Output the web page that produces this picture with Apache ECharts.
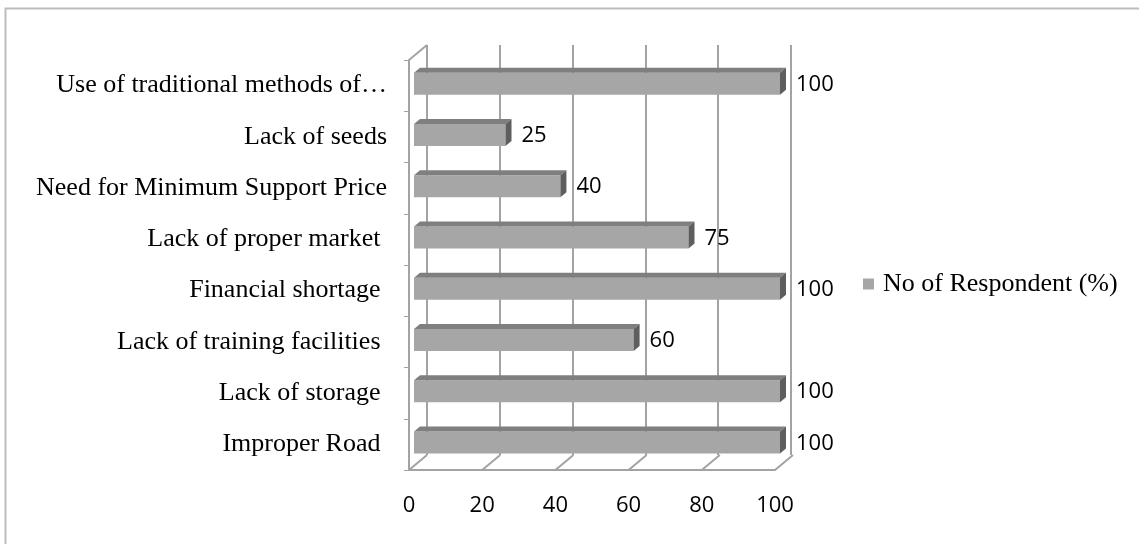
<!DOCTYPE html>
<html>
<head>
<meta charset="utf-8">
<script src="https://cdn.jsdelivr.net/npm/echarts@6/dist/echarts.min.js"></script>
<style>
  html, body { margin: 0; padding: 0; background: #fff; }
  #main { width: 1139px; height: 544px; }
</style>
</head>
<body>
<div id="main"></div>
<script>
// categories, bottom to top as in the chart
var categories = [
  'Improper Road ',
  'Lack of storage ',
  'Lack of training facilities ',
  'Financial shortage ',
  'Lack of proper market ',
  'Need for Minimum Support Price',
  'Lack of seeds',
  'Use of traditional methods of\u2026'
];
var respondents = [100, 100, 60, 100, 75, 40, 25, 100];
var xTicks = [0, 20, 40, 60, 80, 100];
var seriesName = 'No of Respondent (%)';

var lineColor = '#a3a3a3';
var numFont = '"Open Sans", sans-serif';
var depthX = 18, depthY = -15;   // back wall offset

var chart = echarts.init(document.getElementById('main'));

var option = {
  animation: false,
  backgroundColor: '#fff',
  graphic: [{
    type: 'rect',
    shape: { x: 5.5, y: 8.5, width: 1300, height: 700 },
    style: { fill: 'none', stroke: '#bdbdbd', lineWidth: 2 },
    silent: true
  }],
  legend: {
    data: [seriesName],
    left: 858,
    top: 266,
    itemWidth: 11,
    itemHeight: 11,
    itemGap: 8,
    textStyle: { fontFamily: 'Liberation Serif', fontSize: 26, color: '#000', padding: [0, 0, 0, 4] },
    icon: 'rect'
  },
  grid: [
    { left: 409, right: 364, top: 60, bottom: 74 },   // front
    { left: 427, right: 348, top: 45, bottom: 89 }    // back wall
  ],
  xAxis: [{
    gridIndex: 0,
    type: 'value', min: 0, max: 100, interval: 20,
    axisLine: { show: true, lineStyle: { color: lineColor, width: 2 } },
    axisTick: { show: false },
    splitLine: { show: false },
    axisLabel: { fontFamily: numFont, fontSize: 22, color: '#000', margin: 25 }
  }, {
    gridIndex: 1,
    type: 'value', min: 0, max: 100, interval: 20,
    axisLine: { show: false },
    axisTick: { show: false },
    axisLabel: { show: false },
    splitLine: { show: true, lineStyle: { color: lineColor, width: 2 } }
  }],
  yAxis: [{
    gridIndex: 0,
    type: 'category',
    data: categories,
    boundaryGap: true,
    axisLine: { show: true, lineStyle: { color: lineColor, width: 2 } },
    axisTick: { show: true, length: 5, lineStyle: { color: lineColor, width: 1 } },
    axisLabel: { fontFamily: 'Liberation Serif', fontSize: 26, color: '#000', margin: 22 }
  }, {
    gridIndex: 1,
    type: 'category',
    data: categories,
    show: false
  }],
  series: [{
    // floor and wall edges, from the front axis ticks
    type: 'custom',
    xAxisIndex: 0, yAxisIndex: 0,
    silent: true,
    data: xTicks.map(function (t) { return [t]; }),
    renderItem: function (params, api) {
      var cs = params.coordSys;
      var x = api.coord([api.value(0), 0])[0];
      var yb = cs.y + cs.height;
      var kids = [{
        type: 'line',
        shape: { x1: x, y1: yb, x2: x + depthX, y2: yb + depthY },
        style: { stroke: lineColor, lineWidth: 2 }
      }];
      if (params.dataIndex === 0) {
        kids.push({
          type: 'line',
          shape: { x1: cs.x, y1: cs.y, x2: cs.x + depthX, y2: cs.y + depthY },
          style: { stroke: lineColor, lineWidth: 2 }
        });
      }
      return { type: 'group', children: kids };
    },
    z: 1
  }, {
    name: seriesName,
    type: 'custom',
    xAxisIndex: 0, yAxisIndex: 0,
    data: respondents.map(function (v, i) { return [v, i]; }),
    encode: { x: 0, y: 1 },
    itemStyle: { color: '#a6a6a6' },
    renderItem: function (params, api) {
      var v = api.value(0), c = api.value(1);
      var p0 = api.coord([0, c]);
      var p1 = api.coord([v, c]);
      var h = 22, dx = 6, dy = -5;
      var x0 = p0[0] + 5, x1 = p1[0] + 5;
      var y0 = p0[1] - 13;
      return {
        type: 'group',
        children: [{
          type: 'rect',
          shape: { x: x0, y: y0, width: x1 - x0, height: h },
          style: { fill: '#a6a6a6' }
        }, {
          type: 'polygon',
          shape: { points: [[x0, y0], [x0 + dx, y0 + dy], [x1 + dx, y0 + dy], [x1, y0]] },
          style: { fill: '#7f7f7f' }
        }, {
          type: 'polygon',
          shape: { points: [[x1, y0], [x1 + dx, y0 + dy], [x1 + dx, y0 + dy + h], [x1, y0 + h]] },
          style: { fill: '#5e5e5e' }
        }, {
          type: 'text',
          style: {
            text: String(v),
            x: x1 + 16, y: y0 + h / 2 + 1,
            verticalAlign: 'middle',
            fontFamily: numFont, fontSize: 22, fill: '#000'
          }
        }]
      };
    },
    z: 3
  }]
};

chart.setOption(option);
</script>
</body>
</html>
